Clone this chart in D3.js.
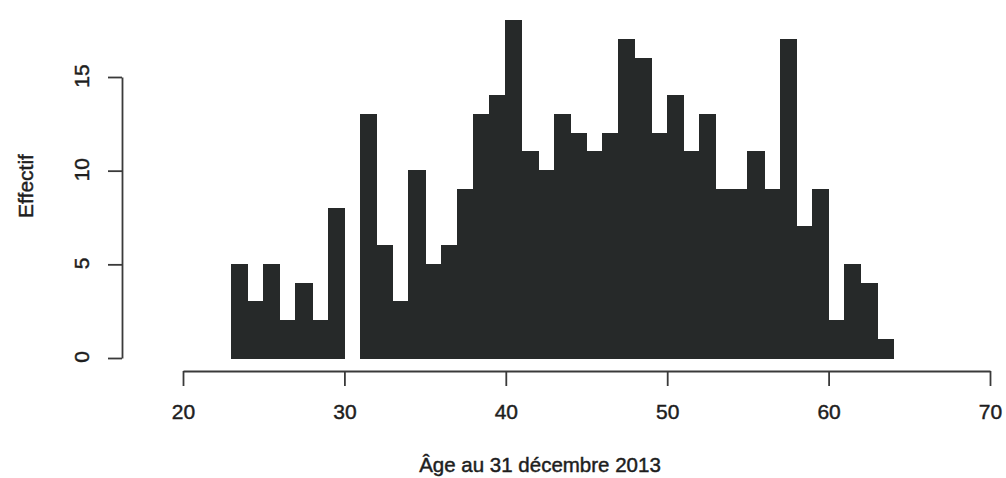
<!DOCTYPE html>
<html>
<head>
<meta charset="utf-8">
<script src="https://cdn.jsdelivr.net/npm/d3@7"></script>
<style>
  body { margin: 0; background: #fff; }
  svg text { font-family: "Liberation Sans", Arial, sans-serif; fill: #1e1e1e; stroke: #1e1e1e; stroke-width: 0.45px; }
</style>
</head>
<body>
<svg id="chart" width="1006" height="478"></svg>
<script>
'use strict';

// Histogram bins: left edge of each 1-year bin, and counts
var binStarts = [23, 24, 25, 26, 27, 28, 29, 30, 31, 32, 33, 34, 35, 36, 37, 38, 39, 40, 41, 42, 43,
                 44, 45, 46, 47, 48, 49, 50, 51, 52, 53, 54, 55, 56, 57, 58, 59, 60, 61, 62, 63];
var counts = [5, 3, 5, 2, 4, 2, 8, 0, 13, 6, 3, 10, 5, 6, 9, 13, 14, 18, 11, 10, 13,
              12, 11, 12, 17, 16, 12, 14, 11, 13, 9, 9, 11, 9, 17, 7, 9, 2, 5, 4, 1];
var xTicks = [20, 30, 40, 50, 60, 70];
var yTicks = [0, 5, 10, 15];

var svg = d3.select('#chart');

var x = d3.scaleLinear().domain([20, 70]).range([183, 990]);
var y = d3.scaleLinear().domain([0, 15]).range([358, 77]);

// Bars - crispEdges so neighbouring bars merge into one dark block like the scan
svg.append('g')
  .attr('shape-rendering', 'crispEdges')
  .selectAll('rect')
  .data(binStarts)
  .enter().append('rect')
  .attr('x', function (d) { return x(d); })
  .attr('width', function (d) { return x(d + 1) - x(d); })
  .attr('y', function (d, i) { return y(counts[i]); })
  .attr('height', function (d, i) { return y(0) - y(counts[i]); })
  .attr('fill', '#262929')
  .attr('stroke', '#262929')
  .attr('stroke-width', 1);

// X axis (R style: line spans first to last tick)
var xAxis = svg.append('g')
  .attr('transform', 'translate(0,371)')
  .call(d3.axisBottom(x).tickValues(xTicks).tickSize(15).tickSizeOuter(0).tickPadding(18));
xAxis.selectAll('path, line').attr('stroke', '#3a3a3a').attr('stroke-width', 1.8);
xAxis.selectAll('text').attr('font-size', '21px').attr('fill', '#1e1e1e');

// Y axis
var yAxis = svg.append('g')
  .attr('transform', 'translate(122,0)')
  .call(d3.axisLeft(y).tickValues(yTicks).tickSize(14).tickSizeOuter(0).tickFormat(''));
yAxis.selectAll('path, line').attr('stroke', '#3a3a3a').attr('stroke-width', 1.8);

// Rotated y tick labels, as R draws them
svg.append('g').selectAll('text')
  .data(yTicks)
  .enter().append('text')
  .attr('transform', function (d) { return 'translate(89,' + (y(d) - 1) + ') rotate(-90)'; })
  .attr('text-anchor', 'middle')
  .attr('font-size', '21px')
  .text(function (d) { return d; });

// Axis titles
svg.append('text')
  .attr('x', 540).attr('y', 472)
  .attr('text-anchor', 'middle')
  .attr('font-size', '20.5px')
  .text('Âge au 31 décembre 2013');

svg.append('text')
  .attr('transform', 'translate(33,186) rotate(-90)')
  .attr('text-anchor', 'middle')
  .attr('font-size', '21px')
  .text('Effectif');
</script>
</body>
</html>
